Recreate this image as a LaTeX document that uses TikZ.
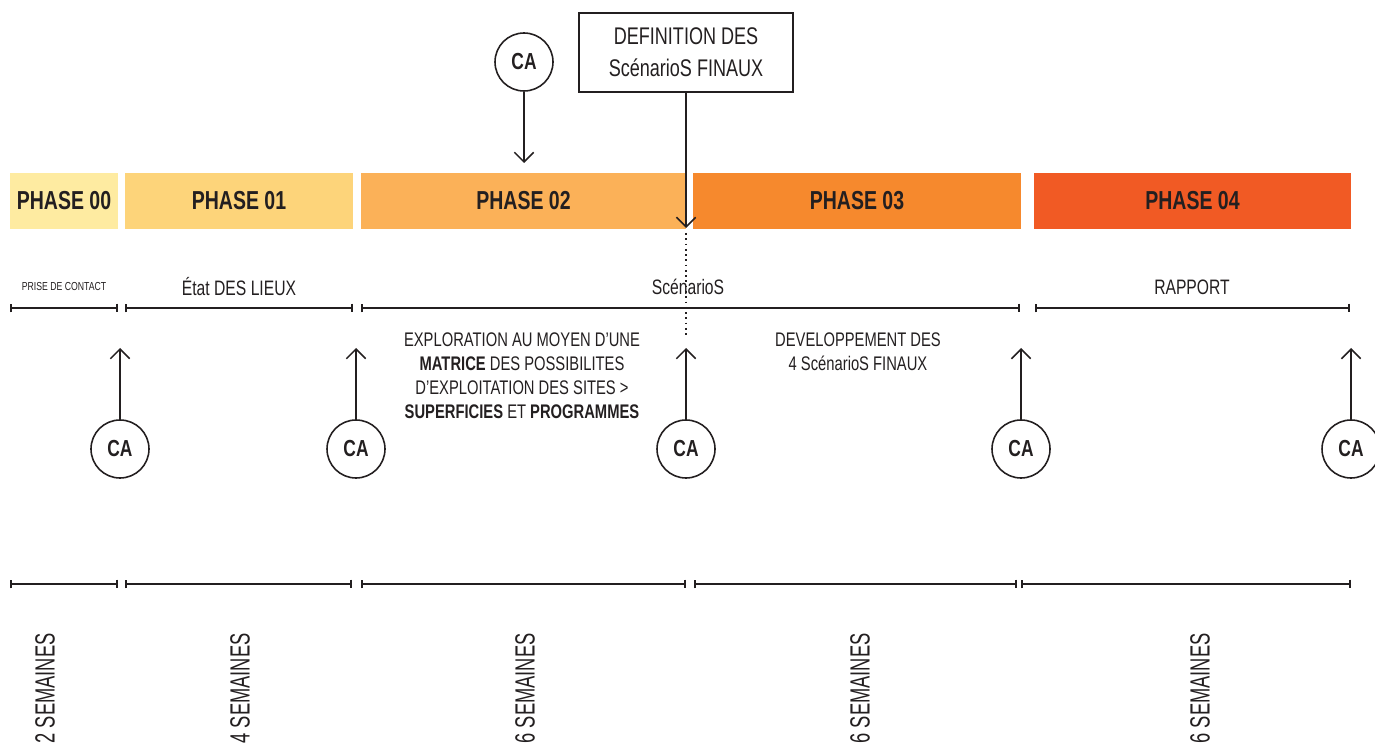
\documentclass[tikz,border=0pt]{standalone}
\usepackage{fontspec}
\setmainfont{Liberation Sans}[FakeStretch=0.75]
\newfontfamily\narrowfont{Liberation Sans}[FakeStretch=0.66]
\usetikzlibrary{arrows.meta}

\definecolor{ink}{HTML}{231F20}
\definecolor{ph0}{HTML}{FEEBA1}
\definecolor{ph1}{HTML}{FDD47A}
\definecolor{ph2}{HTML}{FBB158}
\definecolor{ph3}{HTML}{F6892D}
\definecolor{ph4}{HTML}{F15A24}
\newcommand\pxu{0.02cm}

\tikzset{
phase/.style={minimum height=56*\pxu, inner sep=0pt, text=ink, font=\bfseries\fontsize{14.8}{16}\selectfont},
span/.style={draw=ink, line width=1.1pt, {Bar[width=5pt]}-{Bar[width=5pt]}},
ca/.style={circle, draw=ink, line width=0.9pt, minimum size=58*\pxu, inner sep=0pt, text=ink, font=\bfseries\fontsize{13.2}{14}\selectfont},
arr/.style={draw=ink, line width=0.9pt, -{Straight Barb[length=5.5pt,width=11pt]}},
lbl/.style={text=ink, font=\fontsize{11.9}{13}\selectfont},
desc/.style={align=center, text=ink, font=\fontsize{11.2}{13.6}\selectfont},
defbox/.style={draw=ink, line width=1.6pt, minimum width=214*\pxu, minimum height=79*\pxu, align=center, text=ink, font=\fontsize{13.7}{18}\selectfont},
weeks/.style={rotate=90, anchor=east, inner sep=0pt, text=ink, font=\narrowfont\fontsize{15.8}{17}\selectfont}
}

\begin{document}
\begin{tikzpicture}[x=\pxu, y=-\pxu]
\useasboundingbox (0,0) rectangle (1375,749);

\node [phase, fill=ph0, minimum width=108*\pxu] (p0) at (64,201) {PHASE 00};
\node [phase, fill=ph1, minimum width=228*\pxu] (p1) at (239,201) {PHASE 01};
\node [phase, fill=ph2, minimum width=325*\pxu] (p2) at (523.5,201) {PHASE 02};
\node [phase, fill=ph3, minimum width=328*\pxu] (p3) at (857,201) {PHASE 03};
\node [phase, fill=ph4, minimum width=317*\pxu] (p4) at (1192.5,201) {PHASE 04};

\node [lbl, font=\fontsize{6.6}{8}\selectfont] (prise) at (64,287) {PRISE DE CONTACT};
\node [lbl] (etat) at (239,287) {État DES LIEUX};
\node [lbl] (scen) at (688,287) {ScénarioS};
\node [lbl] (rapport) at (1192,287) {RAPPORT};

\foreach \a/\b in {10/118, 125/353, 361/1020, 1035/1350}
  \draw [span] (\a,308) -- (\b,308);

\foreach \a/\b in {10/118, 125/352, 361/686, 694/1017, 1021/1351}
  \draw [span] (\a,584) -- (\b,584);

\node [ca] (catop) at (524,62) {CA};
\draw [arr] (catop) -- (524,163);

\node [defbox] (def) at (686,52.5) {DEFINITION DES\\ScénarioS FINAUX};
\draw [arr] (def) -- (686,228);
\draw [ink, line width=1pt, dotted] (686,233) -- (686,335);

\foreach \x [count=\i] in {120,356,686,1021,1351} {
  \node [ca] (ca\i) at (\x,449) {CA};
  \draw [arr] (ca\i) -- (\x,348);
}

\node [desc] (explo) at (522,376) {EXPLORATION AU MOYEN D’UNE\\\textbf{MATRICE} DES POSSIBILITES\\D’EXPLOITATION DES SITES >\\\textbf{SUPERFICIES} ET \textbf{PROGRAMMES}};
\node [desc] (devel) at (858,352) {DEVELOPPEMENT DES\\4 ScénarioS FINAUX};

\node [weeks] (w0) at (45,633) {2 SEMAINES};
\node [weeks] (w1) at (240,633) {4 SEMAINES};
\node [weeks] (w2) at (525,633) {6 SEMAINES};
\node [weeks] (w3) at (860,633) {6 SEMAINES};
\node [weeks] (w4) at (1200,633) {6 SEMAINES};
\end{tikzpicture}
\end{document}
